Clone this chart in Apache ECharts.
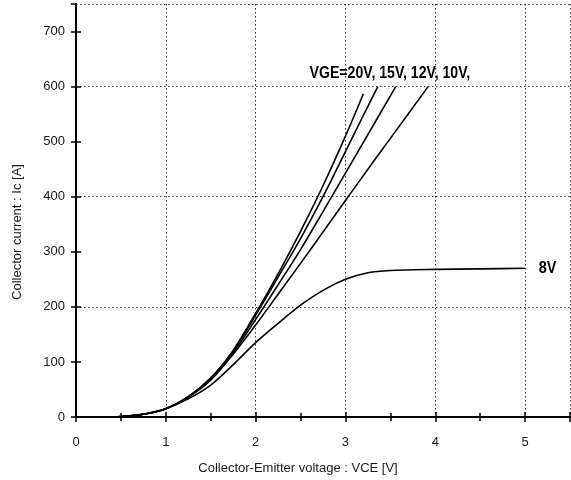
<!DOCTYPE html>
<html>
<head>
<meta charset="utf-8">
<script src="https://cdn.jsdelivr.net/npm/echarts@6/dist/echarts.min.js"></script>
<style>
html,body{margin:0;padding:0;background:#fff;}
#chart{width:571px;height:480px;}
</style>
</head>
<body>
<div id="chart"></div>
<script>
// ---- data (VCE [V], Ic [A]) ----
const vge20 = [[0.3,0],[0.5,1],[0.75,5],[1.0,15],[1.25,37],[1.5,71],[1.75,121],[2.0,188],[2.25,260],[2.5,337],[2.75,420],[3.0,510],[3.2,587]];
const vge15 = [[0.3,0],[0.5,1],[0.75,5],[1.0,15],[1.25,37],[1.5,70],[1.75,120],[2.0,185],[2.25,254],[2.5,324],[2.75,400],[3.0,482],[3.2,548],[3.36,600]];
const vge12 = [[0.3,0],[0.5,1],[0.75,5],[1.0,15],[1.25,36],[1.5,69],[1.75,117],[2.0,177],[2.25,240],[2.5,304],[2.75,373],[3.0,443],[3.25,513],[3.56,600]];
const vge10 = [[0.3,0],[0.5,1],[0.75,5],[1.0,15],[1.25,36],[1.5,67],[1.75,114],[2.0,167],[2.25,223],[2.5,279],[2.75,336],[3.0,393],[3.25,450],[3.5,506],[3.92,600]];
const vge8  = [[0.3,0],[0.5,1],[0.75,5],[1.0,15],[1.25,33],[1.5,58],[1.75,95],[2.0,135],[2.25,170],[2.5,203],[2.75,230],[3.0,250],[3.25,262],[3.5,266],[4.0,268],[4.5,269],[5.0,270]];
const annotationText = ['VGE=20V, 15V, 12V, 10V,', '8V'];
const annotationAt = [[2.6,625],[5.25,270]];
const xTicks = [0,1,2,3,4,5];
const yTicks = [0,100,200,300,400,500,600,700];
const xName = 'Collector-Emitter voltage : VCE [V]';
const yName = 'Collector current : Ic [A]';

const chart = echarts.init(document.getElementById('chart'), null, {renderer:'canvas'});
const txt = '#1a1a1a';
const lineSeries = (d) => ({
  type:'line', data:d, smooth:0.3, showSymbol:false, symbol:'none',
  lineStyle:{color:'#000', width:1.6}, xAxisIndex:0, yAxisIndex:0, silent:true, z:5
});
const tickFont = "'Liberation Sans', Arial, sans-serif";

chart.setOption({
  animation:false,
  backgroundColor:'#fff',
  grid:{left:76, right:1, top:4, bottom:63},
  xAxis:[
    {type:'value', min:0, max:5.5, interval:1, position:'bottom',
     axisLine:{show:true, lineStyle:{color:'#000', width:2}},
     axisTick:{show:true, inside:true, length:5, lineStyle:{color:'#000', width:1.5}},
     minorTick:{show:true, splitNumber:2, length:4, lineStyle:{color:'#000', width:1.5}},
     axisLabel:{show:true, color:txt, fontSize:13, fontFamily:tickFont, margin:19, showMaxLabel:false,
       formatter:(v)=> xTicks.includes(v) ? String(v) : ''},
     splitLine:{show:true, lineStyle:{color:'#333', type:[1.5,2.5], width:1}}
    },
    {type:'value', min:0, max:5.5, interval:1, position:'top',
     axisLine:{show:true, lineStyle:{color:'#000', width:2}},
     axisTick:{show:true, inside:true, length:5, lineStyle:{color:'#000', width:1.5}},
     minorTick:{show:true, splitNumber:2, length:4, lineStyle:{color:'#000', width:1.5}},
     axisLabel:{show:false}, splitLine:{show:false}}
  ],
  yAxis:[
    {type:'value', min:0, max:750, interval:100, position:'left',
     axisLine:{show:true, lineStyle:{color:'#000', width:2}},
     axisTick:{show:true, inside:true, length:5, lineStyle:{color:'#000', width:1.5}},
     axisLabel:{show:true, color:txt, fontSize:13, fontFamily:tickFont, margin:11, showMaxLabel:false,
       formatter:(v)=> yTicks.includes(v) ? String(v) : ''},
     splitLine:{show:false}},
    {type:'value', min:0, max:750, interval:100, position:'right',
     axisLine:{show:true, lineStyle:{color:'#000', width:2}},
     axisTick:{show:true, inside:true, length:5, lineStyle:{color:'#000', width:1.5}},
     axisLabel:{show:false}, splitLine:{show:false}},
    {type:'value', min:0, max:750, interval:200, position:'right',
     axisLine:{show:false}, axisTick:{show:false}, axisLabel:{show:false},
     splitLine:{show:true, lineStyle:{color:'#333', type:[1.5,2.5], width:1}}}
  ],
  series:[
    lineSeries(vge20), lineSeries(vge15), lineSeries(vge12), lineSeries(vge10), lineSeries(vge8)
  ]
});

// annotations placed through the axes' own scales
const p0 = chart.convertToPixel({xAxisIndex:0, yAxisIndex:0}, annotationAt[0]);
const p1 = chart.convertToPixel({xAxisIndex:0, yAxisIndex:0}, annotationAt[1]);
const annFont = "bold 17px 'Liberation Sans', Arial, sans-serif";
chart.setOption({
  graphic:[
    {type:'text', x:p0[0], y:p0[1], scaleX:0.83, z:10,
     style:{text:annotationText[0], fill:'#000', font:annFont, textAlign:'left', textVerticalAlign:'middle'}},
    {type:'text', x:p1[0], y:p1[1], scaleX:0.85, z:10,
     style:{text:annotationText[1], fill:'#000', font:annFont, textAlign:'center', textVerticalAlign:'middle'}},
    {type:'text', x:298, y:468, z:10,
     style:{text:xName, fill:txt, font:"13px " + tickFont, textAlign:'center', textVerticalAlign:'middle'}},
    {type:'text', rotation:Math.PI/2, x:17, y:232, z:10,
     style:{text:yName, fill:txt, font:"13px " + tickFont, textAlign:'center', textVerticalAlign:'middle'}}
  ]
});
</script>
</body>
</html>
